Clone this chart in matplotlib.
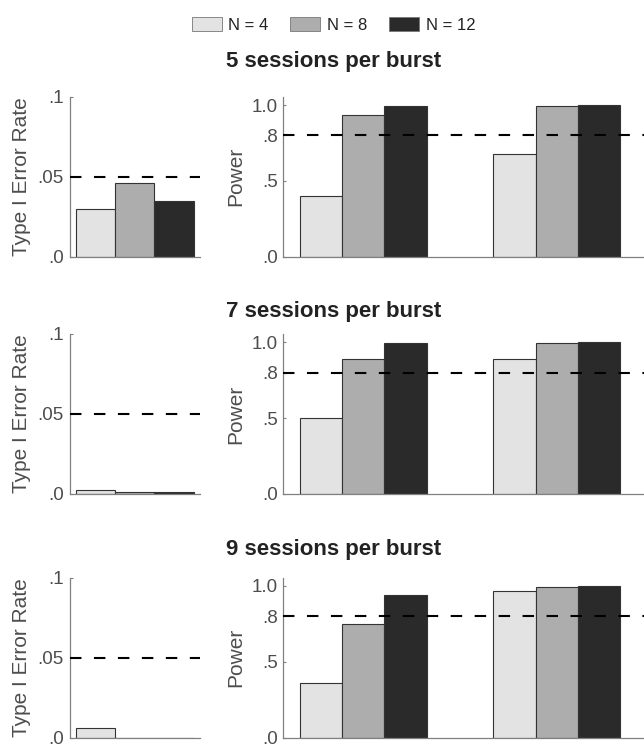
import matplotlib
matplotlib.use("Agg")
import matplotlib.pyplot as plt
from matplotlib.patches import Patch

plt.rcParams['font.family'] = ['Liberation Sans', 'DejaVu Sans']

# ---------------- data ----------------
series_labels = ["N = 4", "N = 8", "N = 12"]
row_titles = ["5 sessions per burst", "7 sessions per burst", "9 sessions per burst"]

type1_5 = [0.030, 0.046, 0.035]
type1_7 = [0.0027, 0.0015, 0.0015]
type1_9 = [0.006, 0.0, 0.0]

power_5_g1 = [0.40, 0.934, 0.993]
power_5_g2 = [0.68, 0.993, 1.0]
power_7_g1 = [0.498, 0.892, 0.996]
power_7_g2 = [0.892, 0.996, 1.0]
power_9_g1 = [0.357, 0.746, 0.94]
power_9_g2 = [0.965, 0.993, 0.998]

type1_ticks = [0.0, 0.05, 0.1]
type1_ticklabels = [".0", ".05", ".1"]
power_ticks = [0.0, 0.5, 0.8, 1.0]
power_ticklabels = [".0", ".5", ".8", "1.0"]
alpha_level = 0.05
power_target = 0.8

type1_rows = [type1_5, type1_7, type1_9]
power_rows = [[power_5_g1, power_5_g2], [power_7_g1, power_7_g2], [power_9_g1, power_9_g2]]

# ---------------- style ----------------
colors = ["#e3e3e3", "#adadad", "#2a2a2a"]
edge = "#333333"
spine_col = "#808080"
text_col = "#4d4d4d"

W, H = 644, 747
fig = plt.figure(figsize=(W / 100, H / 100), dpi=100)

def fx(px):
    return px / W

def fy(py):
    return 1 - py / H

row_bottoms = [256.7, 494, 737.5]
row_title_y = [62, 311, 549]
ax_h = 160

def style_axes(ax):
    for s in ["top", "right"]:
        ax.spines[s].set_visible(False)
    for s in ["left", "bottom"]:
        ax.spines[s].set_color(spine_col)
        ax.spines[s].set_linewidth(0.9)
    ax.tick_params(axis='y', direction='in', length=2.5, width=0.8, color=spine_col,
                   labelsize=13.5, labelcolor=text_col, pad=4)
    ax.tick_params(axis='x', bottom=False, labelbottom=False)

dash = (0, (5.5, 6.0))

for r in range(3):
    yb = row_bottoms[r]
    # Type I error axes
    ax1 = fig.add_axes([fx(69.5), fy(yb), fx(130.2), ax_h / H])
    vals = type1_rows[r]
    ax1.bar(range(len(vals)), vals, width=1.0, color=colors, edgecolor=edge, linewidth=0.8, zorder=2)
    ax1.set_xlim(-0.66, 2.65)
    ax1.set_ylim(0, 0.1)
    ax1.axhline(alpha_level, color="black", linewidth=1.5, linestyle=dash, zorder=3)
    ax1.set_yticks(type1_ticks)
    ax1.set_yticklabels(type1_ticklabels)
    style_axes(ax1)
    ax1.set_ylabel("Type I Error Rate", fontsize=15, color=text_col)
    ax1.yaxis.set_label_coords(-0.298, 0.5)

    # Power axes
    ax2 = fig.add_axes([fx(283.3), fy(yb), 1 - fx(283.3), ax_h / H])
    bw = 0.2184
    for gi, grp in enumerate(power_rows[r]):
        center = gi + 1
        for k, v in enumerate(grp):
            ax2.bar(center + (k - 1) * bw, v, width=bw, color=colors[k], edgecolor=edge,
                    linewidth=0.8, zorder=2)
    ax2.set_xlim(0.586, 2.452)
    ax2.set_ylim(0, 1.055)
    ax2.axhline(power_target, color="black", linewidth=1.5, linestyle=dash, zorder=3)
    ax2.set_yticks(power_ticks)
    ax2.set_yticklabels(power_ticklabels)
    style_axes(ax2)
    ax2.set_ylabel("Power", fontsize=15, color=text_col)
    ax2.yaxis.set_label_coords(-0.106, 0.5)

    fig.text(fx(333.5), fy(row_title_y[r]), row_titles[r], ha="center", va="center",
             fontsize=16, fontweight="bold", color="#222222")

handles = [Patch(facecolor=c, edgecolor="#777777", linewidth=0.6) for c in colors]
fig.legend(handles, series_labels, loc="center", bbox_to_anchor=(fx(333.5), fy(25)),
           ncol=3, frameon=False, fontsize=12, handlelength=1.8, handleheight=0.95,
           handletextpad=0.4, columnspacing=1.3, labelcolor="#222222")

fig.savefig("out.png", dpi=100)
